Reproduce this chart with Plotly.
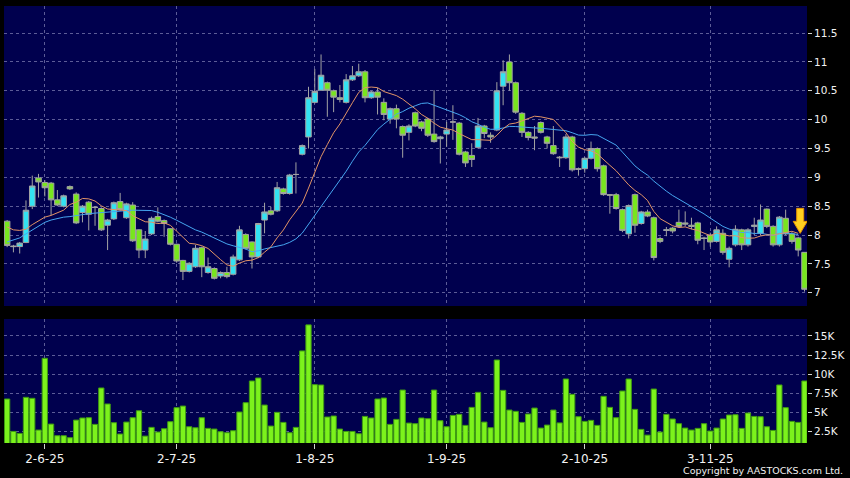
import plotly.graph_objects as go
import pandas as pd

# ---------------- data ----------------
tick_idx = [6, 27, 49, 70, 92, 112]
tick_labels = ["2-6-25", "2-7-25", "1-8-25", "1-9-25", "2-10-25", "3-11-25"]

open_ = [8.24, 7.81, 7.80, 7.87, 8.50, 8.99, 8.91, 8.90, 8.61, 8.50,
         8.84, 8.71, 8.39, 8.57, 8.48, 8.46, 8.17, 8.28, 8.58, 8.30,
         8.52, 8.09, 7.74, 8.02, 8.32, 8.25, 8.11, 7.84, 7.56, 7.37,
         7.45, 7.78, 7.35, 7.42, 7.29, 7.35, 7.32, 7.57, 8.01, 7.88,
         7.62, 8.26, 8.42, 8.42, 8.80, 8.72, 9.05, 9.40, 9.70, 10.30,
         10.51, 10.64, 10.50, 10.38, 10.30, 10.69, 10.76, 10.83, 10.38, 10.48,
         10.30, 10.01, 10.19, 9.88, 9.78, 10.12, 9.96, 10.01, 9.75, 9.67,
         9.75, 9.96, 9.94, 9.44, 9.38, 9.52, 9.89, 9.73, 9.82, 10.58,
         11.00, 10.64, 10.11, 9.78, 9.70, 9.95, 9.70, 9.55, 9.35, 9.34,
         9.70, 9.15, 9.15, 9.33, 9.50, 9.20, 8.70, 8.70, 8.44, 8.02,
         8.70, 8.20, 8.40, 8.30, 7.94, 8.08, 8.12, 8.22, 8.21, 8.17,
         8.21, 7.95, 8.00, 7.89, 8.03, 7.58, 7.83, 8.09, 7.83, 8.15,
         8.03, 8.45, 8.15, 7.83, 8.29, 8.02, 7.95, 7.70]
high = [8.26, 7.83, 7.88, 8.60, 9.03, 9.06, 8.95, 8.92, 8.78, 8.70,
        8.86, 8.74, 8.52, 8.59, 8.50, 8.48, 8.28, 8.58, 8.73, 8.56,
        8.57, 8.10, 8.07, 8.32, 8.48, 8.27, 8.12, 7.85, 7.57, 7.53,
        7.83, 7.80, 7.61, 7.44, 7.37, 7.45, 7.66, 8.16, 8.03, 7.89,
        8.21, 8.56, 8.49, 8.92, 8.82, 9.06, 9.26, 9.57, 10.57, 10.88,
        11.13, 10.66, 10.52, 10.60, 10.79, 10.93, 10.97, 10.86, 10.50, 10.55,
        10.37, 10.21, 10.26, 9.90, 9.92, 10.14, 9.98, 10.03, 10.51, 9.72,
        9.96, 10.25, 9.96, 9.46, 9.59, 10.03, 9.91, 9.78, 10.65, 11.03,
        11.13, 10.66, 10.13, 9.80, 9.89, 9.97, 9.72, 9.89, 9.37, 9.75,
        9.72, 9.17, 9.35, 9.62, 9.52, 9.22, 8.71, 8.73, 8.46, 8.53,
        8.72, 8.42, 8.44, 8.32, 7.97, 8.14, 8.14, 8.44, 8.41, 8.30,
        8.23, 7.97, 8.04, 8.15, 8.10, 7.80, 8.17, 8.11, 8.12, 8.30,
        8.53, 8.46, 8.17, 8.33, 8.44, 8.05, 7.97, 7.70]
low = [7.79, 7.70, 7.68, 7.86, 8.45, 8.65, 8.67, 8.34, 8.50, 8.48,
       8.78, 8.19, 8.22, 8.08, 8.16, 8.07, 7.74, 8.26, 8.42, 8.28,
       7.88, 7.60, 7.60, 8.00, 8.22, 7.97, 7.82, 7.52, 7.22, 7.35,
       7.43, 7.27, 7.33, 7.23, 7.25, 7.25, 7.30, 7.55, 7.75, 7.42,
       7.60, 8.03, 8.34, 8.40, 8.70, 8.70, 8.72, 9.38, 9.50, 10.28,
       10.50, 10.05, 10.13, 10.30, 10.28, 10.67, 10.74, 10.30, 10.36, 10.09,
       9.99, 9.93, 9.85, 9.34, 9.64, 9.87, 9.80, 9.70, 9.60, 9.24,
       9.53, 9.65, 9.38, 9.18, 9.18, 9.50, 9.68, 9.60, 9.80, 10.25,
       10.50, 10.10, 9.70, 9.64, 9.47, 9.76, 9.50, 9.39, 9.18, 9.32,
       9.10, 9.03, 9.08, 9.31, 9.10, 8.68, 8.37, 8.44, 8.05, 7.94,
       8.04, 8.18, 8.31, 7.56, 7.86, 7.98, 8.03, 8.13, 8.15, 8.10,
       7.84, 7.74, 7.80, 7.87, 7.66, 7.44, 7.80, 7.74, 7.80, 8.00,
       8.00, 8.12, 7.80, 7.80, 8.00, 7.85, 7.63, 7.02]
close = [7.82, 7.80, 7.86, 8.43, 8.85, 8.92, 8.82, 8.61, 8.52, 8.68,
         8.80, 8.21, 8.50, 8.36, 8.48, 8.09, 8.26, 8.56, 8.44, 8.54,
         7.90, 7.74, 7.93, 8.29, 8.24, 8.20, 7.84, 7.55, 7.37, 7.51,
         7.77, 7.45, 7.45, 7.25, 7.35, 7.28, 7.62, 8.09, 7.77, 7.62,
         8.20, 8.40, 8.36, 8.82, 8.72, 9.04, 9.05, 9.55, 10.38, 10.49,
         10.77, 10.51, 10.39, 10.35, 10.69, 10.76, 10.83, 10.38, 10.48, 10.39,
         10.09, 10.19, 10.01, 9.73, 9.89, 9.89, 9.85, 9.73, 9.62, 9.70,
         9.82, 9.96, 9.40, 9.25, 9.31, 9.89, 9.76, 9.70, 10.50, 10.83,
         10.64, 10.13, 9.78, 9.69, 9.68, 9.78, 9.59, 9.41, 9.34, 9.70,
         9.13, 9.14, 9.33, 9.50, 9.15, 8.70, 8.69, 8.46, 8.08, 8.51,
         8.17, 8.40, 8.33, 7.61, 7.89, 8.09, 8.07, 8.15, 8.19, 8.15,
         7.91, 7.94, 7.88, 8.09, 7.70, 7.77, 8.10, 7.83, 8.09, 8.17,
         8.26, 8.15, 7.83, 8.31, 8.02, 7.89, 7.74, 7.06]
volume = [6770, 2540, 2280, 6990, 6860, 2720, 12080, 3500, 1980, 1980,
          1720, 4020, 4290, 4330, 3460, 8210, 6120, 3680, 2200, 3760,
          4330, 5240, 1930, 3070, 2460, 2890, 3810, 5640, 5850, 3150,
          3020, 4330, 2940, 2850, 2500, 2370, 2630, 5070, 6290, 9120,
          9510, 5980, 3240, 5030, 3720, 2370, 3070, 13040, 16440, 8640,
          8600, 4420, 4550, 2850, 2540, 2540, 2240, 4500, 4290, 6770,
          6900, 3460, 4110, 7940, 3630, 3550, 4290, 4200, 7940, 3940,
          3150, 4630, 4770, 3330, 5680, 7640, 3760, 3020, 11860, 7900,
          5330, 5160, 3720, 4810, 5590, 2980, 3370, 5330, 3650, 9380,
          7380, 4460, 3850, 3980, 3330, 7120, 5680, 4330, 7810, 9380,
          5420, 2810, 2060, 8070, 2460, 4770, 4160, 3550, 2980, 2720,
          2940, 3550, 2590, 2980, 4160, 4680, 4720, 2940, 4940, 4500,
          4460, 3150, 2670, 8600, 5640, 3850, 3720, 9120]

# moving-average values read off the chart where the look-back window is not complete
ma10_head = [8.14, 8.09, 8.08, 8.10, 8.18, 8.25, 8.31, 8.34, 8.38]
ma20_head = [7.88, 7.91, 7.95, 8.02, 8.09, 8.16, 8.22, 8.26, 8.29, 8.31,
             8.32, 8.34, 8.35, 8.37, 8.38, 8.39, 8.40, 8.41, 8.42]
ma_sessions = 127          # averages are drawn through the previous session
signal_bar = [126]         # bar carrying the yellow signal arrow

price_ticks = [7, 7.5, 8, 8.5, 9, 9.5, 10, 10.5, 11, 11.5]
vol_ticks = [2500, 5000, 7500, 10000, 12500, 15000]
vol_tick_labels = ["2.5K", "5K", "7.5K", "10K", "12.5K", "15K"]

# ---------------- derived ----------------
x = list(range(len(close)))
cs = pd.Series(close[:ma_sessions], dtype=float)
ma10 = cs.rolling(10).mean()
ma10.iloc[:len(ma10_head)] = ma10_head
ma20 = cs.rolling(20).mean()
ma20.iloc[:len(ma20_head)] = ma20_head

# ---------------- style ----------------
FONT = "DejaVu Sans"
GRID = "rgba(115,115,170,0.8)"
TXT = "#f2f2f2"
WICK = "#a3a3a3"

fig = go.Figure()
fig.add_trace(go.Candlestick(
    x=x, open=open_, high=high, low=low, close=close,
    xaxis="x", yaxis="y", whiskerwidth=0,
    increasing=dict(line=dict(color=WICK, width=1), fillcolor="#33e2f2"),
    decreasing=dict(line=dict(color=WICK, width=1), fillcolor="#78e61e"),
    hoverinfo="skip", showlegend=False))
fig.add_trace(go.Scatter(x=x[:ma_sessions], y=ma20, mode="lines", xaxis="x", yaxis="y",
                         line=dict(color="#46a6f0", width=1), hoverinfo="skip"))
fig.add_trace(go.Scatter(x=x[:ma_sessions], y=ma10, mode="lines", xaxis="x", yaxis="y",
                         line=dict(color="#e39466", width=1), hoverinfo="skip"))
fig.add_trace(go.Bar(x=x, y=volume, xaxis="x2", yaxis="y2", width=0.84,
                     marker=dict(color="#7cf21c", line=dict(color="#3f9c12", width=1)),
                     hoverinfo="skip"))

xcommon = dict(range=[-0.5, 127.4], tickvals=tick_idx, showgrid=True, gridcolor=GRID,
               griddash="3px,3px", gridwidth=1, zeroline=False, showline=False,
               fixedrange=True)
ycommon = dict(side="right", showgrid=True, gridcolor=GRID, griddash="3px,3px", gridwidth=1,
               zeroline=False, showline=False, ticks="outside", ticklen=4,
               tickcolor="#d0d0d0", tickfont=dict(family=FONT, size=10.5, color=TXT))

fig.update_layout(
    width=850, height=478,
    margin=dict(l=4, r=43, t=6, b=35),
    paper_bgcolor="#000000", plot_bgcolor="#00004e",
    showlegend=False, boxgap=0.12, boxgroupgap=0,
    font=dict(family=FONT, color=TXT),
    xaxis=dict(**xcommon, anchor="y", showticklabels=False, ticks="",
               rangeslider=dict(visible=False)),
    xaxis2=dict(**xcommon, anchor="y2", matches="x", ticktext=tick_labels, ticks="outside",
                ticklen=5, tickcolor="#d0d0d0",
                tickfont=dict(family=FONT, size=12, color=TXT)),
    yaxis=dict(**ycommon, anchor="x", domain=[0.3135, 1.0], range=[6.77, 11.97],
               tickvals=price_ticks),
    yaxis2=dict(**ycommon, anchor="x2", domain=[0.0, 0.2838], range=[1030, 17210],
                tickvals=vol_ticks, ticktext=vol_tick_labels),
)

# yellow signal arrow (pixel-sized path anchored on the signal bar / its 10-day average)
for b in signal_bar:
    fig.add_shape(type="path", xref="x", yref="y", xsizemode="pixel", ysizemode="pixel",
                  xanchor=b, yanchor=float(ma10.iloc[b]),
                  path="M -1.5 25 L 5.5 25 L 5.5 12 L 9 12 L 2 0 L -5 12 L -1.5 12 Z",
                  fillcolor="#ffcf1f", line=dict(color="#e69500", width=1), layer="above")

fig.add_annotation(text="Copyright by AASTOCKS.com Ltd.", xref="paper", yref="paper",
                   x=1.047, y=-0.0618, xanchor="right", yanchor="middle", showarrow=False,
                   font=dict(family=FONT, size=9.5, color=TXT))

fig.write_html("out.html", config={"displayModeBar": False},
               post_script="document.body.style.margin='0px';"
                           "document.body.style.background='#000000';")
